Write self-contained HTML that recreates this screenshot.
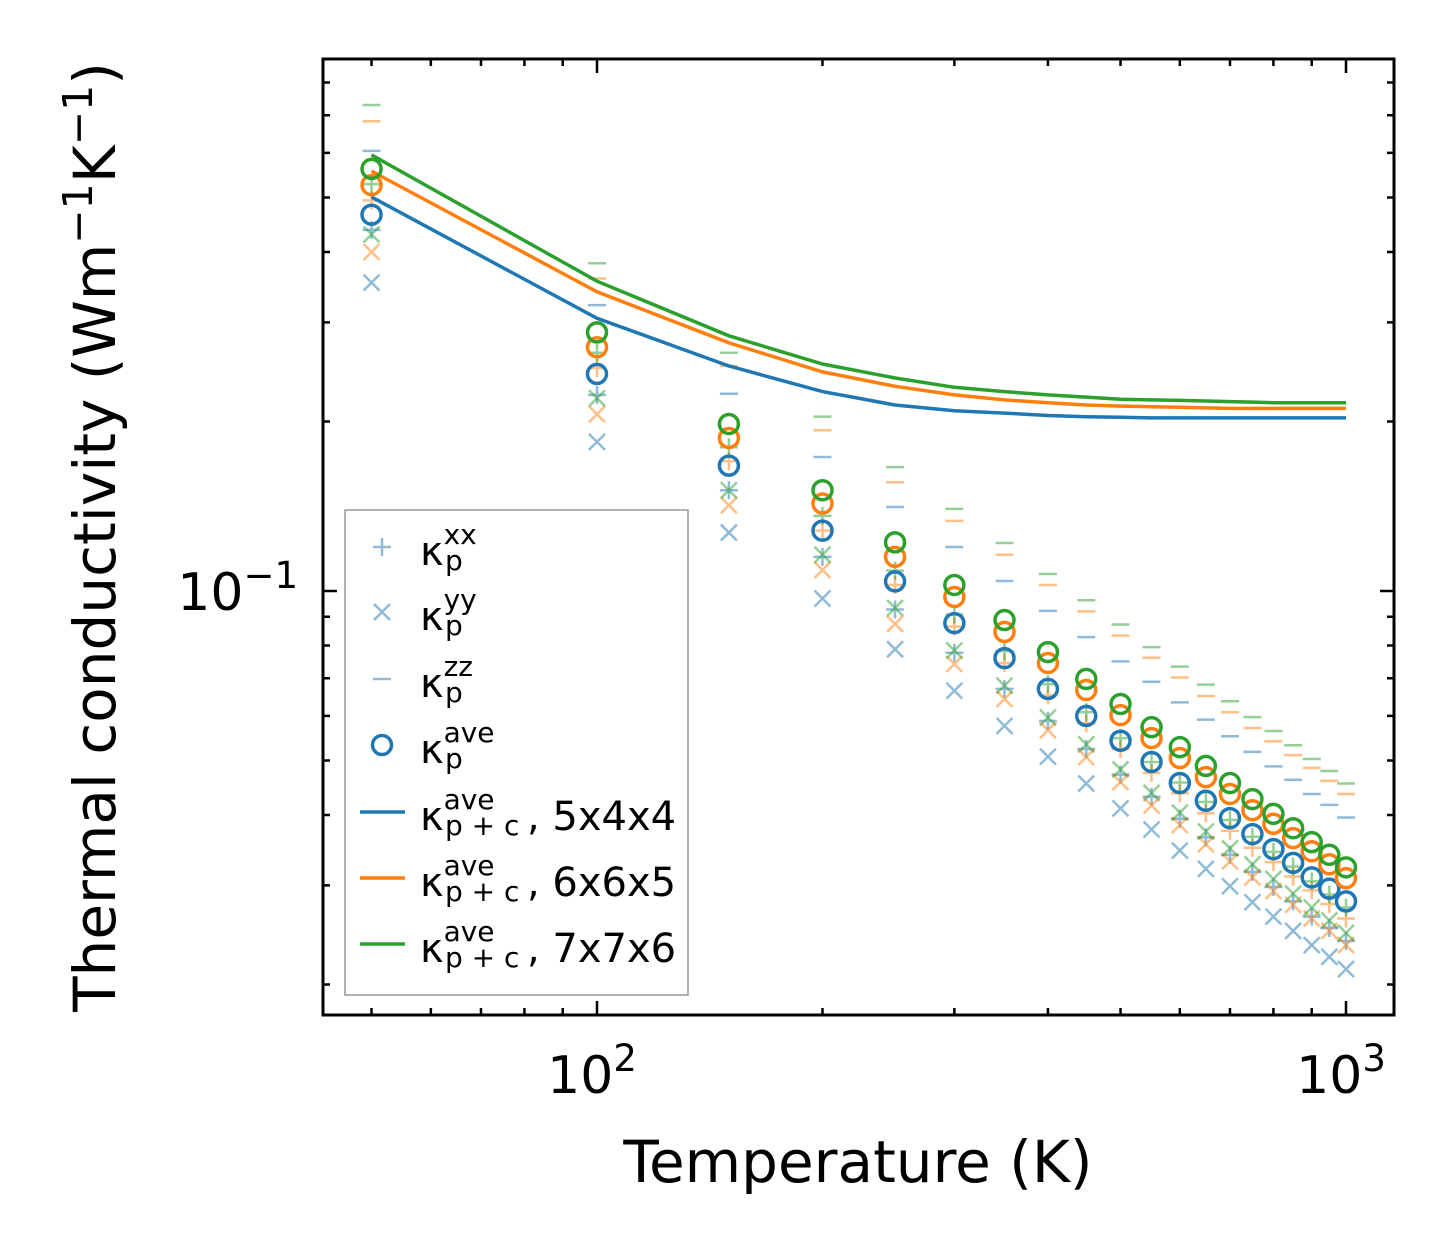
<!DOCTYPE html>
<html><head><meta charset="utf-8"><style>body{margin:0;background:#fff}svg{display:block;font-family:"DejaVu Sans","Liberation Sans",sans-serif}</style></head><body>
<svg id="chart" width="1454" height="1254" viewBox="0 0 1454 1254" xmlns="http://www.w3.org/2000/svg">
<rect width="1454" height="1254" fill="#fff"/>
<g id="marks"></g>
<g id="ticks"></g>
<rect x="323" y="59" width="1071" height="956" fill="none" stroke="#000" stroke-width="3"/>
<text x="592" y="1093" font-size="52" text-anchor="middle">10<tspan dy="-22" font-size="37">2</tspan></text>
<text x="1341" y="1093" font-size="52" text-anchor="middle">10<tspan dy="-22" font-size="37">3</tspan></text>
<text x="298" y="610" font-size="52" text-anchor="end">10<tspan dy="-22" font-size="37">−1</tspan></text>
<text x="858" y="1182" font-size="58" text-anchor="middle">Temperature (K)</text>
<text transform="translate(115,537) rotate(-90)" font-size="58" text-anchor="middle">Thermal conductivity (Wm<tspan dy="-23" font-size="41">−1</tspan><tspan dy="23">K</tspan><tspan dy="-23" font-size="41">−1</tspan><tspan dy="23">)</tspan></text>
<g id="legend">
<rect x="345" y="510" width="343" height="485" fill="#fff" fill-opacity="0.8" stroke="#999" stroke-width="1.5"/>
</g>
</svg>
<script>
const temps=[50,100,150,200,250,300,350,400,450,500,550,600,650,700,750,800,850,900,950,1000];
const blueAve=[0.466,0.243,0.167,0.128,0.104,0.0877,0.0760,0.067,0.060,0.0542,0.0497,0.0456,0.0424,0.0395,0.037,0.0348,0.0329,0.031,0.0296,0.0281];
const blueXX=[0.438,0.223,0.151,0.115,0.0927,0.0777,0.0670,0.0588,0.0524,0.0472,0.0431,0.0394,0.0365,0.0340,0.0317,0.0298,0.0281,0.0264,0.0252,0.0239];
const blueYY=[0.353,0.184,0.127,0.097,0.0788,0.0665,0.0576,0.0508,0.0455,0.0411,0.0377,0.0346,0.0321,0.0299,0.0280,0.0264,0.0249,0.0235,0.0224,0.0213];
const blueZZ=[0.605,0.322,0.224,0.173,0.141,0.1197,0.1042,0.0922,0.0828,0.0750,0.0690,0.0634,0.0591,0.0552,0.0518,0.0488,0.0462,0.0436,0.0417,0.0396];
const orangeAve=[0.526,0.271,0.187,0.143,0.115,0.0976,0.0846,0.0745,0.0667,0.0602,0.0548,0.0505,0.0467,0.0436,0.0408,0.0386,0.0364,0.0345,0.0327,0.0309];
const orangeXX=[0.494,0.249,0.170,0.128,0.1025,0.0865,0.0745,0.0653,0.0582,0.0524,0.0475,0.0437,0.0403,0.0375,0.0350,0.0330,0.0311,0.0294,0.0278,0.0262];
const orangeYY=[0.400,0.206,0.142,0.109,0.0874,0.0742,0.0643,0.0566,0.0507,0.0458,0.0416,0.0384,0.0355,0.0331,0.0310,0.0293,0.0277,0.0262,0.0249,0.0235];
const orangeZZ=[0.683,0.359,0.251,0.193,0.156,0.1332,0.1160,0.1025,0.0920,0.0833,0.0761,0.0702,0.0651,0.0609,0.0571,0.0541,0.0511,0.0485,0.0460,0.0436];
const greenAve=[0.562,0.288,0.198,0.151,0.122,0.1025,0.0888,0.0779,0.0698,0.0630,0.0573,0.0528,0.0489,0.0456,0.0427,0.0402,0.0379,0.0358,0.0340,0.0323];
const greenXX=[0.528,0.265,0.180,0.136,0.1087,0.0908,0.0782,0.0683,0.0609,0.0548,0.0497,0.0457,0.0422,0.0392,0.0366,0.0344,0.0324,0.0305,0.0289,0.0274];
const greenYY=[0.430,0.220,0.151,0.116,0.0933,0.0784,0.0679,0.0596,0.0534,0.0482,0.0438,0.0404,0.0374,0.0349,0.0327,0.0308,0.0290,0.0274,0.0260,0.0247];
const greenZZ=[0.730,0.382,0.265,0.204,0.166,0.1399,0.1217,0.1072,0.0963,0.0872,0.0795,0.0734,0.0682,0.0637,0.0597,0.0564,0.0532,0.0503,0.0479,0.0455];
const lineBlue=[0.501,0.305,0.251,0.226,0.214,0.209,0.207,0.205,0.204,0.2035,0.203,0.203,0.203,0.203,0.203,0.203,0.203,0.203,0.203,0.203];
const lineOrange=[0.557,0.340,0.276,0.245,0.231,0.223,0.2185,0.216,0.214,0.213,0.2125,0.212,0.2115,0.211,0.211,0.211,0.211,0.211,0.211,0.211];
const lineGreen=[0.595,0.355,0.284,0.253,0.239,0.230,0.226,0.223,0.221,0.219,0.2185,0.218,0.2175,0.217,0.2165,0.216,0.216,0.216,0.216,0.216];
const xMajor=[100,1000];
const xMinor=[50,60,70,80,90,200,300,400,500,600,700,800,900];
const yMajor=[0.1];
const yMinor=[0.02,0.03,0.04,0.05,0.06,0.07,0.08,0.09,0.2,0.3,0.4,0.5,0.6,0.7,0.8];

const NS='http://www.w3.org/2000/svg';
const X0=323,X1=1394,Y0=59,Y1=1015;
function xs(t){return 597+749*(Math.log10(t)-2);}
function ys(v){return 591-563*(Math.log10(v)+1);}
function mk(tag,attrs,parent){const e=document.createElementNS(NS,tag);for(const k in attrs)e.setAttribute(k,attrs[k]);parent.appendChild(e);return e;}
const marks=document.getElementById('marks');
const ticks=document.getElementById('ticks');
const C={blue:'#1f77b4',orange:'#ff7f0e',green:'#2ca02c'};

function plus(g,x,y,c){return mk('path',{d:`M${x-9} ${y}H${x+9}M${x} ${y-9}V${y+9}`,stroke:c,'stroke-width':2.5,'stroke-opacity':0.5,fill:'none'},g);}
function cross(g,x,y,c){return mk('path',{d:`M${x-8} ${y-8}L${x+8} ${y+8}M${x-8} ${y+8}L${x+8} ${y-8}`,stroke:c,'stroke-width':2.5,'stroke-opacity':0.5,fill:'none'},g);}
function dash(g,x,y,c){return mk('path',{d:`M${x-9} ${y}H${x+9}`,stroke:c,'stroke-width':2.5,'stroke-opacity':0.5,fill:'none'},g);}
function circ(g,x,y,c){return mk('circle',{cx:x,cy:y,r:9.5,stroke:c,'stroke-width':3.5,fill:'none'},g);}

const sets=[['blue',blueXX,blueYY,blueZZ],['orange',orangeXX,orangeYY,orangeZZ],['green',greenXX,greenYY,greenZZ]];
sets.forEach(s=>{
  const c=C[s[0]];
  temps.forEach((t,i)=>{
    let e=plus(marks,xs(t),ys(s[1][i]),c);
    
    
    e=cross(marks,xs(t),ys(s[2][i]),c);
    
    
    e=dash(marks,xs(t),ys(s[3][i]),c);
    
    
  });
});
[['blue',lineBlue],['orange',lineOrange],['green',lineGreen]].forEach(s=>{
  const d=temps.map((t,i)=>(i?'L':'M')+xs(t).toFixed(1)+' '+ys(s[1][i]).toFixed(1)).join('');
  const e=mk('path',{d:d,stroke:C[s[0]],'stroke-width':3.5,fill:'none'},marks);
  
  
});
[['blue',blueAve],['orange',orangeAve],['green',greenAve]].forEach(s=>{
  temps.forEach((t,i)=>{
    const e=circ(marks,xs(t),ys(s[1][i]),C[s[0]]);
    
    
  });
});
function tk(d){const e=mk('path',{d:d,stroke:'#000','stroke-width':2.5,fill:'none'},ticks);
  
  }
xMajor.forEach(t=>{const x=xs(t);tk(`M${x} ${Y1}v-14M${x} ${Y0}v14`);});
xMinor.forEach(t=>{const x=xs(t);if(x>X0&&x<X1)tk(`M${x} ${Y1}v-7M${x} ${Y0}v7`);});
yMajor.forEach(v=>{const y=ys(v);tk(`M${X0} ${y}h14M${X1} ${y}h-14`);});
yMinor.forEach(v=>{const y=ys(v);if(y>Y0&&y<Y1)tk(`M${X0} ${y}h7M${X1} ${y}h-7`);});

const leg=document.getElementById('legend');
const lc='#1f77b4';
const rows=[547,612,679,745,812,878,944];
let e;
e=plus(leg,382,rows[0],lc);
e=cross(leg,382,rows[1],lc);
e=dash(leg,382,rows[2],lc);
e=circ(leg,382,rows[3],lc);
[[rows[4],C.blue],[rows[5],C.orange],[rows[6],C.green]].forEach(r=>{
  const l=mk('path',{d:`M360 ${r[0]}H405`,stroke:r[1],'stroke-width':3.5},leg);
  
  
});
const labels=[['xx',''],['yy',''],['zz',''],['ave',''],['ave',', 5x4x4',1],['ave',', 6x6x5',1],['ave',', 7x7x6',1]];
labels.forEach((L,i)=>{
  const y=rows[i];
  const t=mk('text',{x:420,y:y+18,'font-size':40},leg);
  
  
  t.innerHTML=`κ<tspan dy="-21" font-size="28">${L[0]}</tspan>`;
  const sub=mk('text',{x:445,y:y+23,'font-size':28},leg);
  
  
  sub.textContent=L[2]?'p + c':'p';
  if(L[1]){const r=mk('text',{x:527,y:y+18,'font-size':40},leg);
    
    
    r.textContent=L[1];}
});
</script>
</body></html>
